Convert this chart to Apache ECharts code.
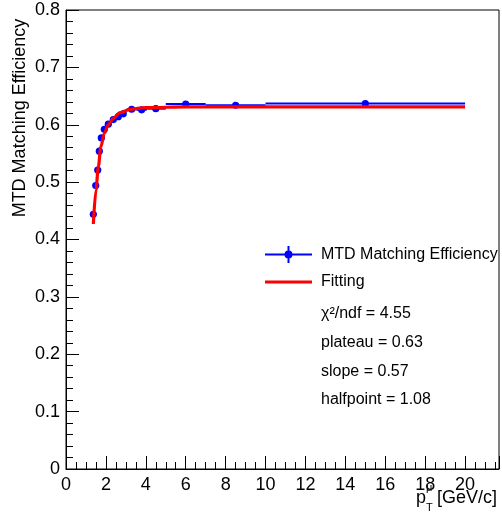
<!DOCTYPE html>
<html>
<head>
<meta charset="utf-8">
<script src="https://cdn.jsdelivr.net/npm/echarts@6/dist/echarts.min.js"></script>
<style>html,body{margin:0;padding:0;background:#fff}#c{width:502px;height:517px}</style>
</head>
<body>
<div id="c"></div>
<script>
// Measured efficiency points (pT centre, efficiency, half bin width)
var ptX = [1.37, 1.49, 1.59, 1.67, 1.77, 1.92, 2.12, 2.37, 2.62, 2.87, 3.29, 3.79, 4.5, 6.0, 8.5, 15.0];
var ptY = [0.444, 0.494, 0.521, 0.554, 0.577, 0.592, 0.601, 0.609, 0.614, 0.619, 0.627, 0.626, 0.628, 0.636, 0.634, 0.637];
var ptXErr = [0.05, 0.05, 0.05, 0.05, 0.05, 0.1, 0.1, 0.125, 0.125, 0.125, 0.25, 0.25, 0.5, 1.0, 1.5, 5.0];
// Fit curve
var fitX = [1.37, 1.5, 1.62, 1.75, 1.92, 2.12, 2.37, 2.71, 3.21, 4.0, 6.0, 20.0];
var fitY = [0.427, 0.486, 0.527, 0.562, 0.585, 0.600, 0.611, 0.621, 0.627, 0.630, 0.631, 0.631];
var xTicks = [0, 2, 4, 6, 8, 10, 12, 14, 16, 18, 20];
var yTicks = [0, 0.1, 0.2, 0.3, 0.4, 0.5, 0.6, 0.7, 0.8];
var statLines = ['χ²/ndf = 4.55', 'plateau = 0.63', 'slope = 0.57', 'halfpoint = 1.08'];

var FONT = '"Liberation Sans", Arial, Helvetica, sans-serif';
var BLUE = 'rgb(0,0,255)', RED = 'rgb(255,0,0)';

var ptData = ptX.map(function (x, i) { return [x, ptY[i], ptXErr[i]]; });
var fitData = fitX.map(function (x, i) { return [x, fitY[i]]; });

var chart = echarts.init(document.getElementById('c'), null, {renderer: 'canvas'});

var statGraphics = statLines.map(function (t, i) {
  return {type: 'text', left: 321, top: 306 + i * 28.6,
    style: {text: t, font: '16px ' + FONT, fill: '#000'}};
});

chart.setOption({
  animation: false,
  backgroundColor: '#fff',
  grid: {left: 66, top: 10, right: 3, bottom: 48, show: true, borderColor: '#000', borderWidth: 1},
  xAxis: {
    type: 'value', min: 0, max: 21.7, interval: 2,
    axisLine: {lineStyle: {color: '#000', width: 1}},
    axisTick: {inside: true, length: 13, lineStyle: {color: '#000'}},
    minorTick: {show: true, splitNumber: 4, length: 7, lineStyle: {color: '#000'}},
    splitLine: {show: false},
    axisLabel: {color: '#000', fontSize: 18, fontFamily: FONT, margin: 7,
      formatter: function (v) { return xTicks.indexOf(v) >= 0 ? String(v) : ''; }}
  },
  yAxis: {
    type: 'value', min: 0, max: 0.8, interval: 0.1,
    axisLine: {show: true, lineStyle: {color: '#000', width: 1}},
    axisTick: {show: true, inside: true, length: 13, lineStyle: {color: '#000'}},
    minorTick: {show: true, splitNumber: 5, length: 7, lineStyle: {color: '#000'}},
    splitLine: {show: false},
    axisLabel: {color: '#000', fontSize: 18, fontFamily: FONT, margin: 6,
      formatter: function (v) {
        var r = Math.round(v * 10) / 10;
        return yTicks.indexOf(r) >= 0 ? (r === 0 ? '0' : r.toFixed(1)) : '';
      }}
  },
  legend: {
    orient: 'vertical', left: 265, top: 246, padding: 0, itemWidth: 47, itemHeight: 17, itemGap: 11,
    textStyle: {color: '#000', fontSize: 16, fontFamily: FONT, padding: [0, 0, 0, 4]},
    data: [
      {name: 'MTD Matching Efficiency',
       icon: 'path://M0,7.5h47v2h-47z M22.5,0h2v17h-2z M27.5,8.5a4,4 0 1,1 -8,0a4,4 0 1,1 8,0z',
       itemStyle: {color: BLUE}},
      {name: 'Fitting', icon: 'path://M0,7h47v3h-47z', itemStyle: {color: RED}}
    ]
  },
  graphic: [
    {type: 'text', x: 20, y: 118, rotation: Math.PI / 2,
     style: {text: 'MTD Matching Efficiency', font: '18px ' + FONT, fill: '#000', align: 'center', verticalAlign: 'middle'}},
    {type: 'text', left: 416, top: 489, style: {text: 'p', font: '18px ' + FONT, fill: '#000'}},
    {type: 'text', left: 426, top: 482, style: {text: 'μ', font: '11px ' + FONT, fill: '#000'}},
    {type: 'text', left: 426, top: 502, style: {text: 'T', font: '11px ' + FONT, fill: '#000'}},
    {type: 'text', left: 437, top: 489, style: {text: '[GeV/c]', font: '18px ' + FONT, fill: '#000'}}
  ].concat(statGraphics),
  series: [
    {
      name: 'MTD Matching Efficiency', type: 'custom', z: 2,
      itemStyle: {color: BLUE},
      data: ptData,
      renderItem: function (params, api) {
        var x = api.value(0), y = api.value(1), e = api.value(2);
        var p0 = api.coord([x - e, y]), p1 = api.coord([x + e, y]), c = api.coord([x, y]);
        return {type: 'group', children: [
          {type: 'line', shape: {x1: p0[0], y1: p0[1], x2: p1[0], y2: p1[1]},
           style: {stroke: BLUE, lineWidth: 2}},
          {type: 'circle', shape: {cx: c[0], cy: c[1], r: 3.6}, style: {fill: BLUE}}
        ]};
      }
    },
    {
      name: 'Fitting', type: 'line', z: 5, data: fitData, symbol: 'none',
      smooth: 0.3, smoothMonotone: 'x',
      lineStyle: {color: RED, width: 3.2}, itemStyle: {color: RED}
    }
  ]
});
</script>
</body>
</html>
